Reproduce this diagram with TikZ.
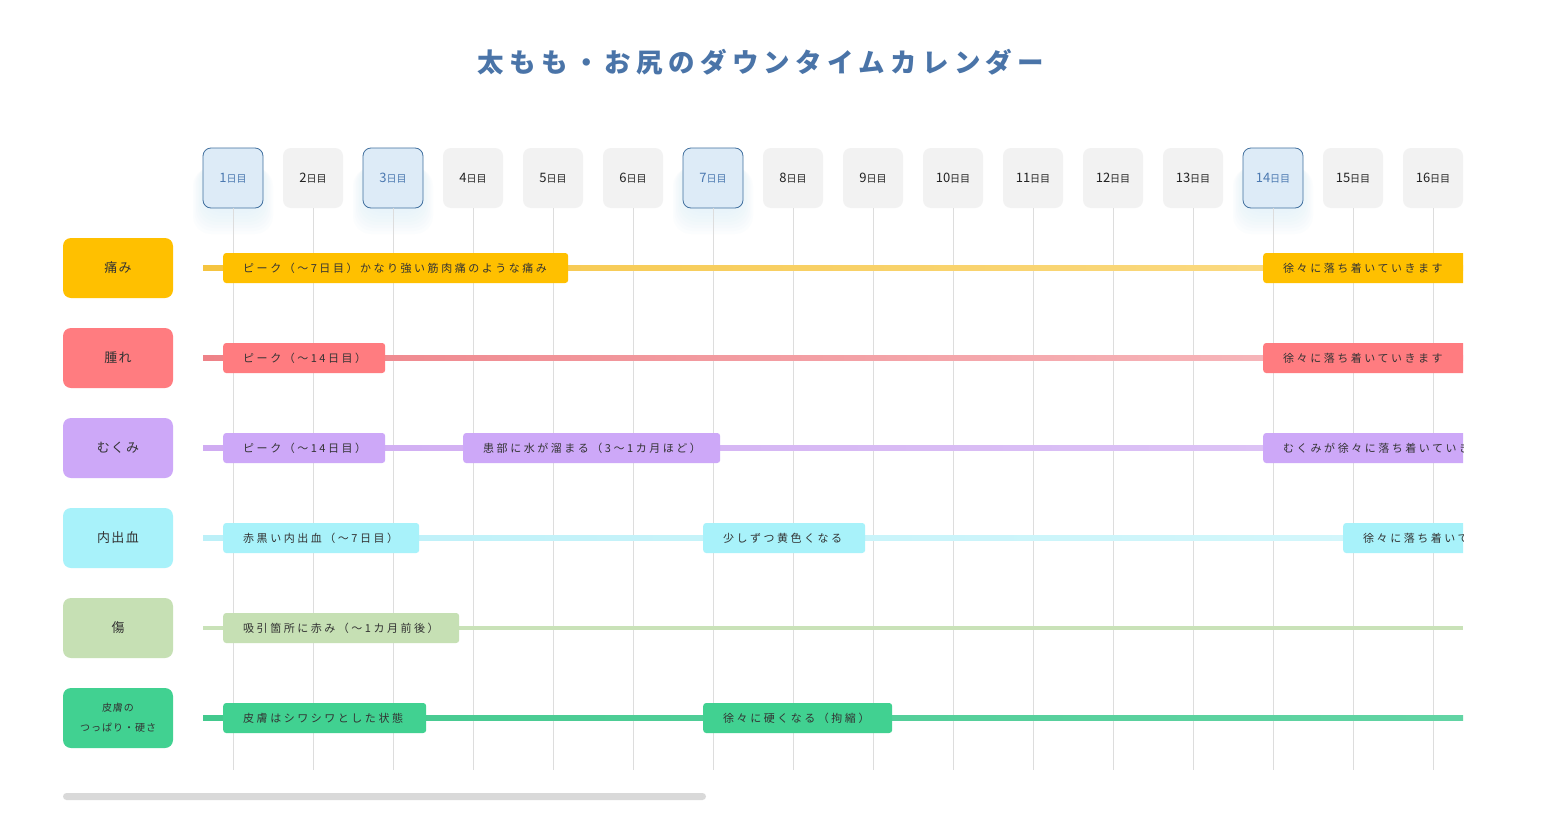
\documentclass[tikz,border=0pt]{standalone}
\usepackage{fontspec}
\setmainfont{Noto Sans CJK JP}
\newfontfamily\evfont[LetterSpace=23]{Noto Sans CJK JP}
\newfontfamily\catfont[LetterSpace=10]{Noto Sans CJK JP}
\newfontfamily\titlefont[LetterSpace=20]{Noto Sans CJK JP}
\definecolor{painc}{HTML}{FFC000}
\definecolor{swellc}{HTML}{FF7C80}
\definecolor{mukc}{HTML}{CDA8F8}
\definecolor{bruisec}{HTML}{A8F2FA}
\definecolor{woundc}{HTML}{C6E0B4}
\definecolor{skinc}{HTML}{41D191}
\definecolor{txt}{HTML}{333333}
\definecolor{daytxt}{HTML}{222222}
\definecolor{titleblue}{HTML}{4A74A8}
\definecolor{dayfill}{HTML}{F2F2F2}
\definecolor{hlfill}{HTML}{DDEBF7}
\definecolor{hlborder}{HTML}{41709F}
\definecolor{hltext}{HTML}{4A78B0}
\definecolor{gridc}{HTML}{DDDDDD}
\definecolor{glowc}{HTML}{D8EEFA}
\definecolor{tApain}{HTML}{F5C440}\definecolor{tBpain}{HTML}{FBDD8C}
\definecolor{tAswell}{HTML}{EE8288}\definecolor{tBswell}{HTML}{F8BEC2}
\definecolor{tAmuk}{HTML}{D0ACF2}\definecolor{tBmuk}{HTML}{DEC6F6}
\definecolor{tAbruise}{HTML}{BCF0F8}\definecolor{tBbruise}{HTML}{D4F7FB}
\definecolor{tAwound}{HTML}{C9E2B8}
\definecolor{tAskin}{HTML}{43C98E}\definecolor{tBskin}{HTML}{62D4A4}
\definecolor{scrollc}{HTML}{D9D9D9}
\newcommand\myevt[6]{\node[evbox, fill=#4, minimum width=#5pt] (#1) at (#2,#3) {\makebox[\dimexpr#5pt-40pt\relax][l]{#6}};}
\newcommand\myevc[5]{\node[evbox, fill=#4, minimum width=215pt] (#1) at (#2,#3) {\makebox[175pt][l]{#5}};}
\begin{document}
\begin{tikzpicture}[x=1pt,y=-1pt,
  daybox/.style={rounded corners=8pt, minimum width=60pt, minimum height=60pt, inner sep=0pt, fill=dayfill, text=daytxt},
  dayhl/.style={daybox, fill=hlfill, draw=hlborder, line width=0.8pt, text=hltext},
  catbox/.style={rounded corners=8pt, minimum width=110pt, minimum height=60pt, inner sep=0pt, font=\catfont\fontsize{13}{15}\selectfont, text=txt},
  evbox/.style={rounded corners=3pt, minimum height=30pt, inner xsep=20pt, inner ysep=0pt, anchor=west, font=\evfont\fontsize{11}{13}\selectfont, text=txt},
  gridline/.style={gridc, line width=0.8pt}
]
\useasboundingbox (0,0) rectangle (1545,814);
\fill[white] (0,0) rectangle (1545,814);

% title
\node[font=\titlefont\bfseries\fontsize{26.5}{30}\selectfont, text=titleblue] (title) at (761,62) {太もも・お尻のダウンタイムカレンダー};

% glow under highlighted days
\foreach \gx in {233,393,713,1273}{
  \foreach \k in {1,...,8}{
    \fill[glowc, opacity=0.08, rounded corners=18pt] (\gx-28-1.5*\k, 160+\k) rectangle (\gx+28+1.5*\k, 210+3*\k);
  }
}

% day headers
\foreach \i/\s in {1/dayhl,2/daybox,3/dayhl,4/daybox,5/daybox,6/daybox,7/dayhl,8/daybox,9/daybox,10/daybox,11/daybox,12/daybox,13/daybox,14/dayhl,15/daybox,16/daybox}{
  \node[\s] (d\i) at ({233+80*(\i-1)},178) {{\fontsize{13}{14}\selectfont\i}{\fontsize{10}{12}\selectfont 日目}};
  \draw[gridline] (d\i.south) -- ++(0,562);
}

% categories
\node[catbox, fill=painc] (c1) at (118,268) {痛み};
\node[catbox, fill=swellc] (c2) at (118,358) {腫れ};
\node[catbox, fill=mukc] (c3) at (118,448) {むくみ};
\node[catbox, fill=bruisec] (c4) at (118,538) {内出血};
\node[catbox, fill=woundc] (c5) at (118,628) {傷};
\node[catbox, fill=skinc, align=center, font=\catfont\fontsize{10}{20}\selectfont] (c6) at (118,718) {皮膚の\\つっぱり・硬さ};

% tracks
\shade[left color=tApain, right color=tBpain] (203,265.8) rectangle (1463,270.2);
\shade[left color=tAswell, right color=tBswell] (203,355.8) rectangle (1463,360.2);
\shade[left color=tAmuk, right color=tBmuk] (203,445.8) rectangle (1463,450.2);
\shade[left color=tAbruise, right color=tBbruise] (203,535.8) rectangle (1463,540.2);
\fill[tAwound] (203,625.8) rectangle (1463,630.2);
\shade[left color=tAskin, right color=tBskin] (203,715.8) rectangle (1463,720.2);

% events
\myevt{e11}{223}{268}{painc}{345}{ピーク（〜7日目）かなり強い筋肉痛のような痛み}
\myevt{e21}{223}{358}{swellc}{162}{ピーク（〜14日目）}
\myevt{e31}{223}{448}{mukc}{162}{ピーク（〜14日目）}
\myevt{e32}{463}{448}{mukc}{257}{患部に水が溜まる（3〜1カ月ほど）}
\myevt{e41}{223}{538}{bruisec}{196}{赤黒い内出血（〜7日目）}
\myevt{e42}{703}{538}{bruisec}{162}{少しずつ黄色くなる}
\myevt{e51}{223}{628}{woundc}{236}{吸引箇所に赤み（〜1カ月前後）}
\myevt{e61}{223}{718}{skinc}{203}{皮膚はシワシワとした状態}
\myevt{e62}{703}{718}{skinc}{189}{徐々に硬くなる（拘縮）}
\begin{scope}
  \clip (0,0) rectangle (1463,814);
  \myevc{e12}{1263}{268}{painc}{徐々に落ち着いていきます}
  \myevc{e22}{1263}{358}{swellc}{徐々に落ち着いていきます}
  \myevc{e33}{1263}{448}{mukc}{むくみが徐々に落ち着いていきます}
  \myevc{e43}{1343}{538}{bruisec}{徐々に落ち着いていきます}
\end{scope}

% scrollbar
\fill[scrollc, rounded corners=3.5pt] (63,793) rectangle (706,800);
\end{tikzpicture}
\end{document}
